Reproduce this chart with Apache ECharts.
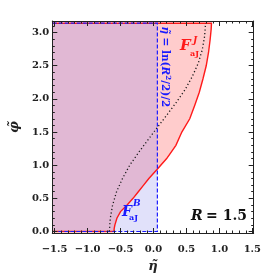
<!DOCTYPE html>
<html>
<head>
<meta charset="utf-8">
<script src="https://cdn.jsdelivr.net/npm/echarts@6/dist/echarts.min.js"></script>
<style>html,body{margin:0;padding:0;background:#fff;}#c{width:264px;height:278px;}</style>
</head>
<body>
<div id="c"></div>
<script>
// ---- data ----
const etaTickVals = [-1.5, -1.0, -0.5, 0.0, 0.5, 1.0, 1.5];
const etaTickLabels = ['−1.5', '−1.0', '−0.5', '0.0', '0.5', '1.0', '1.5'];
const phiTickVals = [0.0, 0.5, 1.0, 1.5, 2.0, 2.5, 3.0];
const phiTickLabels = ['0.0', '0.5', '1.0', '1.5', '2.0', '2.5', '3.0'];
const etaMinorVals = [-1.5,-1.4,-1.3,-1.2,-1.1,-1.0,-0.9,-0.8,-0.7,-0.6,-0.5,-0.4,-0.3,-0.2,-0.1,0,0.1,0.2,0.3,0.4,0.5,0.6,0.7,0.8,0.9,1.0,1.1,1.2,1.3,1.4,1.5];
const phiMinorVals = [0,0.1,0.2,0.3,0.4,0.5,0.6,0.7,0.8,0.9,1.0,1.1,1.2,1.3,1.4,1.5,1.6,1.7,1.8,1.9,2.0,2.1,2.2,2.3,2.4,2.5,2.6,2.7,2.8,2.9,3.0,3.1];

// red boundary of F_aJ^J (eta as read at each phi)
const redPhi = [0, 0.05, 0.1, 0.2, 0.3, 0.4, 0.5, 0.6, 0.7, 0.8, 0.93, 1.1, 1.3, 1.5, 1.7, 1.9, 2.1, 2.3, 2.5, 2.7, 2.9, 3.05, 3.1416];
const redEta = [-0.60, -0.595, -0.585, -0.555, -0.50, -0.40, -0.31, -0.23, -0.15, -0.07, 0.05, 0.20, 0.34, 0.43, 0.55, 0.625, 0.695, 0.75, 0.80, 0.835, 0.86, 0.875, 0.88];

// dotted black curve
const dotPhi = [0, 0.2, 0.4, 0.6, 0.8, 1.0, 1.2, 1.4, 1.5708, 1.74, 1.94, 2.14, 2.34, 2.54, 2.74, 2.94, 3.1416];
const dotEta = [-0.67, -0.655, -0.62, -0.56, -0.47, -0.36, -0.22, -0.07, 0.059, 0.19, 0.34, 0.48, 0.59, 0.68, 0.74, 0.775, 0.79];

// blue region boundary eta = ln(R^2/2)/2 with R = 1.5, and top phi = pi
const etaC = 0.059;
const phiTop = 3.1416;
const phiBottom = 0;

// axis ranges
const xMin = -1.535, xMax = 1.52;
const yMin = -0.023, yMax = 3.175;

const FONT = 'DejaVu Serif';

// ---- build polygons ----
const redPts = redEta.map((e, i) => [e, redPhi[i]]);
const dotPts = dotEta.map((e, i) => [e, dotPhi[i]]);
const redPoly = [[xMin, phiBottom]].concat(redPts, [[xMin, phiTop]]);
const bluePoly = [[xMin, phiBottom], [etaC, phiBottom], [etaC, phiTop], [xMin, phiTop]];
const overlapPoly = [[xMin, phiBottom]];
for (let i = 0; i < redPts.length; i++) {
  const p = redPts[i];
  if (p[0] < etaC) { overlapPoly.push(p); }
  else {
    const q = redPts[i - 1];
    const t = (etaC - q[0]) / (p[0] - q[0]);
    overlapPoly.push([etaC, q[1] + t * (p[1] - q[1])]);
    break;
  }
}
overlapPoly.push([etaC, phiTop], [xMin, phiTop]);

function polySeries(pts, fill, z) {
  return {
    type: 'custom', xAxisIndex: 0, yAxisIndex: 0, z: z, silent: true,
    data: [0],
    renderItem: function (params, api) {
      return { type: 'polygon', shape: { points: pts.map(p => api.coord(p)) },
               style: { fill: fill, stroke: null } };
    }
  };
}
function lineSeries(pts, stroke, width, dash, z) {
  return {
    type: 'custom', xAxisIndex: 0, yAxisIndex: 0, z: z, silent: true,
    data: [0],
    renderItem: function (params, api) {
      return { type: 'polyline', shape: { points: pts.map(p => api.coord(p)) },
               style: { fill: null, stroke: stroke, lineWidth: width, lineDash: dash } };
    }
  };
}

function mkX(pos, ticks, len, labels, extra) {
  return Object.assign({
    type: 'value', position: pos, min: xMin, max: xMax, gridIndex: 0, z: 20,
    axisLine: { show: len === 5, onZero: false, lineStyle: { color: '#222', width: 1 } },
    axisTick: { show: true, inside: true, length: len, customValues: ticks, lineStyle: { color: '#222', width: 1 } },
    axisLabel: labels ? { show: true, customValues: ticks, margin: 11,
      formatter: v => { const i = etaTickVals.findIndex(t => Math.abs(t - v) < 1e-6); return i >= 0 ? labels[i] : ''; },
      fontFamily: FONT, fontWeight: 'bold', fontSize: 10, color: '#222' } : { show: false },
    splitLine: { show: false }
  }, extra || {});
}
function mkY(pos, ticks, len, labels, extra) {
  return Object.assign({
    type: 'value', position: pos, min: yMin, max: yMax, gridIndex: 0, z: 20,
    axisLine: { show: len === 5, onZero: false, lineStyle: { color: '#222', width: 1 } },
    axisTick: { show: true, inside: true, length: len, customValues: ticks, lineStyle: { color: '#222', width: 1 } },
    axisLabel: labels ? { show: true, customValues: ticks, margin: 3,
      formatter: v => { const i = phiTickVals.findIndex(t => Math.abs(t - v) < 1e-6); return i >= 0 ? labels[i] : ''; },
      fontFamily: FONT, fontWeight: 'bold', fontSize: 10, color: '#222' } : { show: false },
    splitLine: { show: false }
  }, extra || {});
}

const chart = echarts.init(document.getElementById('c'), null, { renderer: 'canvas' });
chart.setOption({
  animation: false,
  backgroundColor: '#ffffff',
  grid: { left: 43, right: 7, top: 21, bottom: 45, containLabel: false },
  xAxis: [
    mkX('bottom', etaTickVals, 5, etaTickLabels, {
      name: 'η̃', nameLocation: 'middle', nameGap: 27,
      nameTextStyle: { fontFamily: FONT, fontStyle: 'italic', fontWeight: 'bold', fontSize: 13, color: '#222' } }),
    mkX('bottom', etaMinorVals, 2.5, null),
    mkX('top', etaTickVals, 5, null),
    mkX('top', etaMinorVals, 2.5, null)
  ],
  yAxis: [
    mkY('left', phiTickVals, 5, phiTickLabels, {
      name: 'φ̃', nameLocation: 'middle', nameGap: 29, nameRotate: 90,
      nameTextStyle: { fontFamily: FONT, fontStyle: 'italic', fontWeight: 'bold', fontSize: 13, color: '#222' } }),
    mkY('left', phiMinorVals, 2.5, null),
    mkY('right', phiTickVals, 5, null),
    mkY('right', phiMinorVals, 2.5, null)
  ],
  series: [
    polySeries(bluePoly, '#e1e1fa', 1),
    polySeries(redPoly, '#ffcccc', 2),
    polySeries(overlapPoly, '#e1b8d4', 3),
    lineSeries(redPoly, '#ff1a1a', 1.4, null, 4),
    lineSeries(bluePoly, '#1a1aff', 1.2, [4, 2], 5),
    lineSeries(dotPts, '#1a1a1a', 1.3, [1.2, 2.4], 6)
  ],
  graphic: [
    { type: 'text', x: 165, y: 67, rotation: -Math.PI / 2, z: 100,
      style: { text: '{i|η̃} {n|= ln(}{i|R}{s|2}{n|/2)/2}', align: 'center', verticalAlign: 'middle',
        rich: {
          i: { fontFamily: FONT, fontStyle: 'italic', fontWeight: 'bold', fontSize: 10.5, fill: '#1a1aff' },
          n: { fontFamily: FONT, fontWeight: 'bold', fontSize: 10.5, fill: '#1a1aff' },
          s: { fontFamily: FONT, fontWeight: 'bold', fontSize: 7, fill: '#1a1aff', verticalAlign: 'top', padding: [0, 0, 6, 0] }
        } } },
    { type: 'text', x: 180, y: 54, z: 100, style: { text: 'F', fontFamily: FONT, fontStyle: 'italic', fontWeight: 'bold', fontSize: 15, fill: '#ff1a1a', verticalAlign: 'bottom' } },
    { type: 'text', x: 193, y: 45, z: 100, style: { text: 'J', fontFamily: FONT, fontStyle: 'italic', fontWeight: 'bold', fontSize: 9, fill: '#ff1a1a', verticalAlign: 'bottom' } },
    { type: 'text', x: 190, y: 58, z: 100, style: { text: 'aJ', fontFamily: FONT, fontWeight: 'bold', fontSize: 8, fill: '#ff1a1a', verticalAlign: 'bottom' } },
    { type: 'text', x: 122, y: 219, z: 100, style: { text: 'F', fontFamily: FONT, fontStyle: 'italic', fontWeight: 'bold', fontSize: 14, fill: '#1a1aff', verticalAlign: 'bottom' } },
    { type: 'text', x: 133, y: 208, z: 100, style: { text: 'B', fontFamily: FONT, fontStyle: 'italic', fontWeight: 'bold', fontSize: 9, fill: '#1a1aff', verticalAlign: 'bottom' } },
    { type: 'text', x: 129, y: 222, z: 100, style: { text: 'aJ', fontFamily: FONT, fontWeight: 'bold', fontSize: 8, fill: '#1a1aff', verticalAlign: 'bottom' } },
    { type: 'text', x: 247, y: 223, z: 100, style: { text: '{i|R} {n|= 1.5}', align: 'right', verticalAlign: 'bottom',
        rich: {
          i: { fontFamily: FONT, fontStyle: 'italic', fontWeight: 'bold', fontSize: 14, fill: '#111' },
          n: { fontFamily: FONT, fontWeight: 'bold', fontSize: 14, fill: '#111' }
        } } }
  ]
});
</script>
</body>
</html>
